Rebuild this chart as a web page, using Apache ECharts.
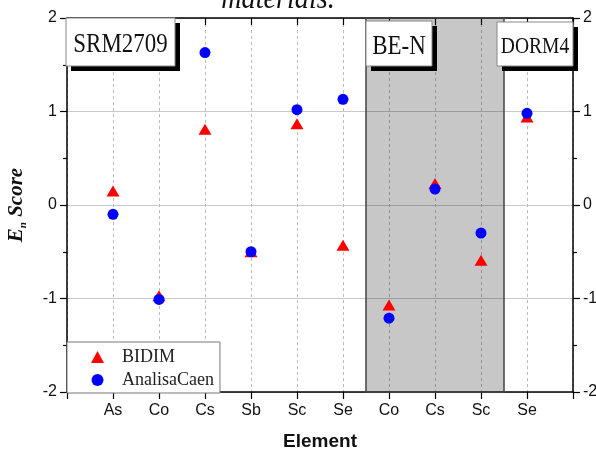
<!DOCTYPE html>
<html><head><meta charset="utf-8">
<script src="https://cdn.jsdelivr.net/npm/echarts@6/dist/echarts.min.js"></script>
<style>html,body{margin:0;padding:0;background:#fff}#c{width:596px;height:450px}</style>
</head><body><div id="c"></div>
<script>
// ---- data ----
const categories = ['As', 'Co', 'Cs', 'Sb', 'Sc', 'Se', 'Co', 'Cs', 'Sc', 'Se'];
const bidim = [0.15, -0.97, 0.81, -0.50, 0.87, -0.43, -1.07, 0.23, -0.59, 0.94];
const analisaCaen = [-0.10, -1.01, 1.63, -0.50, 1.02, 1.13, -1.21, 0.17, -0.30, 0.98];
const yTicks = [-2, -1, 0, 1, 2];
const shadedFrom = 7, shadedTo = 9;   // BE-N group (category positions)
const materialLabels = ['SRM2709', 'BE-N', 'DORM4'];

const pos = categories.map((c, i) => i + 1);
const bidimData = pos.map((x, i) => [x, bidim[i]]);
const caenData = pos.map((x, i) => [x, analisaCaen[i]]);

const chart = echarts.init(document.getElementById('c'), null, {renderer: 'canvas'});
const sans = '"Liberation Sans", Arial, sans-serif';
const serif = '"Liberation Serif", "Times New Roman", serif';
const axisLine = {show: true, onZero: false, lineStyle: {color: '#000', width: 1.5}};
const yCommon = {
  type: 'value', min: yTicks[0], max: yTicks[yTicks.length - 1], interval: 1,
  axisLine: axisLine,
  axisTick: {show: true, inside: false, length: 7, lineStyle: {color: '#000', width: 1.2}},
  minorTick: {show: true, splitNumber: 2, length: 4, lineStyle: {color: '#000', width: 1.2}},
  axisLabel: {fontFamily: sans, fontSize: 16, color: '#111', margin: 10},
};

function boxes() {
  const items = [];
  const defs = [
    {t: materialLabels[0], x: 66, y: 18, w: 109, h: 48, fs: 27},
    {t: materialLabels[1], x: 366, y: 21, w: 66, h: 45, fs: 27},
    {t: materialLabels[2], x: 497, y: 22, w: 76, h: 44, fs: 23},
  ];
  defs.forEach(d => {
    items.push({type: 'rect', z: 99, shape: {x: d.x + 5, y: d.y + 5, width: d.w, height: d.h}, style: {fill: '#000'}});
    items.push({type: 'rect', z: 100, shape: {x: d.x, y: d.y, width: d.w, height: d.h}, style: {fill: '#fff', stroke: '#888', lineWidth: 1}});
    items.push({type: 'text', z: 101, x: d.x + d.w / 2, y: d.y + d.h / 2 + 3, scaleX: 0.85,
      style: {text: d.t, font: d.fs + 'px ' + serif, fill: '#111', align: 'center', verticalAlign: 'middle'}});
  });
  items.push({type: 'text', z: 101, x: 278, y: 16, scaleX: 0.88,
    style: {text: 'materials.', font: 'italic 32px ' + serif, fill: '#111', align: 'center', verticalAlign: 'bottom'}});
  return items;
}

chart.setOption({
  animation: false,
  backgroundColor: '#fff',
  grid: {left: 67, right: 23, top: 18, bottom: 58, containLabel: false, outerBoundsMode: 'none'},
  legend: {
    data: ['BIDIM', 'AnalisaCaen'], orient: 'vertical', left: 67, top: 342,
    backgroundColor: '#fff', borderColor: '#777', borderWidth: 1, borderRadius: 0,
    padding: [6, 6, 4, 24], itemGap: 5, itemWidth: 13, itemHeight: 12,
    textStyle: {fontFamily: serif, fontSize: 18, color: '#222', padding: [0, 0, 0, 13]},
    z: 50
  },
  xAxis: [{
    type: 'value', min: 0, max: categories.length + 1, interval: 1, position: 'bottom',
    axisLine: axisLine,
    axisTick: {show: true, inside: false, length: 7, lineStyle: {color: '#000', width: 1.2}},
    axisLabel: {fontFamily: sans, fontSize: 16, color: '#111', margin: 11,
      formatter: v => (v >= 1 && v <= categories.length) ? categories[v - 1] : ''},
    splitLine: {show: true, lineStyle: {color: '#bbb', type: [3, 3], width: 1}},
    name: 'Element', nameLocation: 'middle', nameGap: 40,
    nameTextStyle: {fontFamily: sans, fontSize: 19, fontWeight: 'bold', color: '#111'}
  }, {
    type: 'value', min: 0, max: categories.length + 1, interval: 1, position: 'top',
    axisLine: axisLine,
    axisTick: {show: true, inside: true, length: 7, lineStyle: {color: '#000', width: 1.2}},
    axisLabel: {show: false}, splitLine: {show: false}
  }],
  yAxis: [Object.assign({}, yCommon, {
    position: 'left',
    splitLine: {show: true, lineStyle: {color: '#c8c8c8', width: 1}},
    name: '{e|E}{n|n}{s| Score}', nameLocation: 'middle', nameGap: 38, nameRotate: 90,
    nameTextStyle: {rich: {
      e: {fontFamily: serif, fontStyle: 'italic', fontWeight: 'bold', fontSize: 21, color: '#111'},
      n: {fontFamily: serif, fontStyle: 'italic', fontWeight: 'bold', fontSize: 11, color: '#111', padding: [14, 0, 0, 0]},
      s: {fontFamily: serif, fontStyle: 'italic', fontWeight: 'bold', fontSize: 21, color: '#111'}
    }}
  }), Object.assign({}, yCommon, {position: 'right', splitLine: {show: false}})],
  series: [{
    name: 'BIDIM', type: 'scatter', data: bidimData, symbol: 'triangle', symbolSize: [13, 11],
    itemStyle: {color: '#ff0000', opacity: 1},
    markArea: {silent: true, itemStyle: {color: 'rgba(0,0,0,0.22)', borderColor: '#444', borderWidth: 1.5},
      data: [[{xAxis: shadedFrom - 0.5}, {xAxis: shadedTo + 0.5}]]}
  }, {
    name: 'AnalisaCaen', type: 'scatter', data: caenData, symbol: 'circle', symbolSize: 11,
    itemStyle: {color: '#0000ff', opacity: 1}
  }],
  graphic: boxes()
});
</script></body></html>
